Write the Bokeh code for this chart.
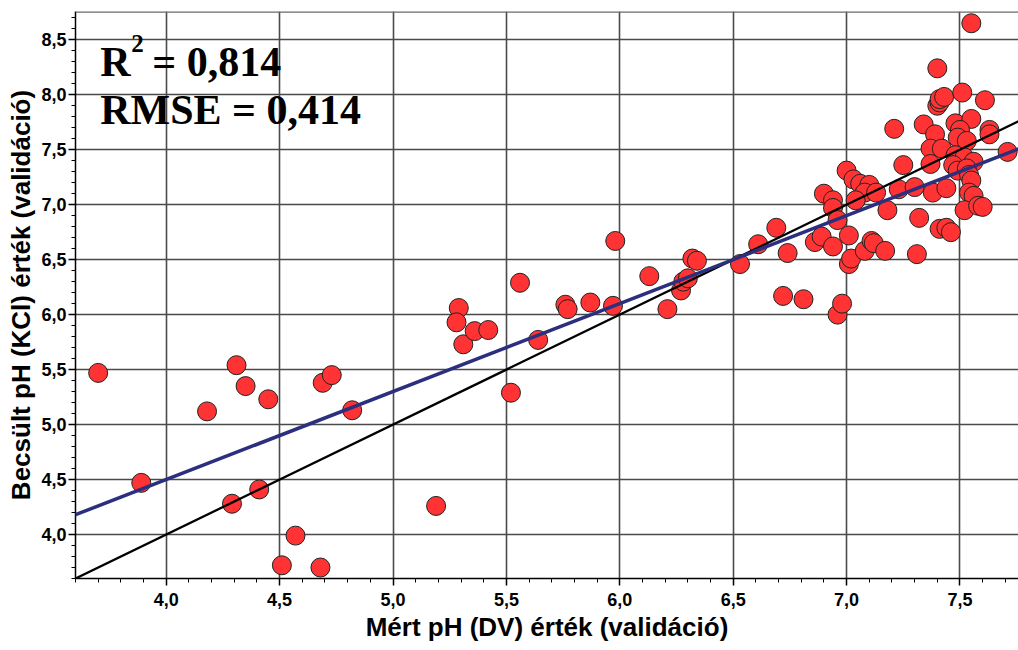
from bokeh.plotting import figure
from bokeh.models import (SingleIntervalTicker, Span, Slope, Label, Range1d)
from bokeh.embed import file_html
from bokeh.resources import INLINE

# ---- data ----
measured_ph = [
    3.70, 3.89, 4.18, 4.31, 4.35, 4.45, 4.29, 4.41, 4.51, 4.57, 4.68, 4.69, 4.73, 4.82,
    5.19, 5.29, 5.28, 5.31, 5.36, 5.42, 5.56, 5.64, 5.52, 5.76, 5.77, 5.87, 5.97, 5.98,
    6.13, 6.21, 6.27, 6.28, 6.30, 6.32, 6.34, 6.53, 6.61, 6.69, 6.74, 6.72, 6.81, 6.86,
    6.89, 6.90, 6.94, 6.94, 6.96, 6.94, 6.96, 6.98, 7.00, 7.03, 7.01, 7.01, 7.02, 7.06,
    7.10, 7.08, 7.13, 7.04, 7.18, 7.23, 7.08, 7.11, 7.12, 7.17, 7.25, 7.31, 7.32, 7.30,
    7.38, 7.44, 7.21, 7.34, 7.39, 7.48, 7.55, 7.50, 7.49, 7.53, 7.63, 7.63, 7.71, 7.37,
    7.42, 7.37, 7.48, 7.52, 7.47, 7.49, 7.56, 7.53, 7.54, 7.55, 7.54, 7.56, 7.52, 7.58,
    7.60, 7.41, 7.44, 7.46, 7.40, 7.41, 7.41, 7.43, 7.40, 7.51, 7.61, 7.55,
]
predicted_ph = [
    5.47, 4.47, 5.12, 5.54, 5.35, 5.23, 4.28, 4.41, 3.72, 3.99, 3.70, 5.38, 5.45, 5.13,
    4.26, 6.06, 5.93, 5.73, 5.85, 5.86, 6.29, 5.77, 5.29, 6.09, 6.05, 6.11, 6.08, 6.67,
    6.35, 6.05, 6.22, 6.30, 6.33, 6.51, 6.49, 6.46, 6.64, 6.79, 6.56, 6.17, 6.14, 6.66,
    6.71, 7.10, 7.04, 6.97, 6.86, 6.62, 6.00, 6.10, 7.31, 7.23, 6.72, 6.46, 6.51, 7.19,
    7.18, 7.11, 7.11, 7.04, 6.95, 7.14, 6.58, 6.67, 6.65, 6.58, 7.36, 6.55, 6.88, 7.16,
    7.11, 7.15, 7.69, 7.73, 7.64, 7.74, 7.78, 7.68, 7.61, 7.58, 7.68, 7.64, 7.48, 7.51,
    7.51, 7.37, 7.45, 7.43, 7.36, 7.31, 7.39, 7.33, 7.27, 7.22, 7.11, 7.08, 6.95, 6.99,
    6.98, 6.78, 6.79, 6.75, 7.90, 7.93, 7.96, 7.98, 8.24, 8.02, 7.95, 8.65,
]

fit_slope = 0.80
fit_intercept = 1.30
r2_base = "R"
r2_sup = "2"
r2_value = "= 0,814"
rmse_text = "RMSE = 0,414"

x_ticks = [4.0, 4.5, 5.0, 5.5, 6.0, 6.5, 7.0, 7.5]
x_tick_labels = ["4,0", "4,5", "5,0", "5,5", "6,0", "6,5", "7,0", "7,5"]
y_ticks = [4.0, 4.5, 5.0, 5.5, 6.0, 6.5, 7.0, 7.5, 8.0, 8.5]
y_tick_labels = ["4,0", "4,5", "5,0", "5,5", "6,0", "6,5", "7,0", "7,5", "8,0", "8,5"]

X_MIN, X_MAX = 3.60, 7.758
Y_MIN, Y_MAX = 3.60, 8.757

x_title = "Mért pH (DV) érték (validáció)"
y_title = "Becsült pH (KCl) érték (validáció)"

SANS = "Liberation Sans"
SERIF = "Liberation Serif"

p = figure(width=1018, height=650, output_backend="svg", toolbar_location=None,
           x_range=Range1d(X_MIN, X_MAX), y_range=Range1d(Y_MIN, Y_MAX),
           min_border_left=75, min_border_right=0, min_border_top=11,
           min_border_bottom=72)
p.outline_line_color = None
p.background_fill_color = "white"
p.border_fill_color = "white"

for ax, ticks, labels in ((p.xaxis[0], x_ticks, x_tick_labels),
                          (p.yaxis[0], y_ticks, y_tick_labels)):
    ax.ticker = SingleIntervalTicker(interval=0.5, num_minor_ticks=5)
    ax.major_label_overrides = {t: l for t, l in zip(ticks, labels)}
    ax.axis_line_color = "black"
    ax.axis_line_width = 1.5
    ax.major_tick_line_color = "black"
    ax.major_tick_line_width = 1.5
    ax.major_tick_in = 0
    ax.major_tick_out = 7
    ax.minor_tick_line_color = "black"
    ax.minor_tick_line_width = 1
    ax.minor_tick_in = 0
    ax.minor_tick_out = 4
    ax.major_label_text_font = SANS
    ax.major_label_text_font_style = "bold"
    ax.major_label_text_font_size = "18px"
    ax.major_label_text_color = "black"
    ax.axis_label_text_font = SANS
    ax.axis_label_text_font_style = "bold"
    ax.axis_label_text_font_size = "26px"
    ax.axis_label_text_color = "black"

p.xaxis.axis_label = x_title
p.yaxis.axis_label = y_title
p.xaxis.major_label_standoff = 7
p.yaxis.major_label_standoff = 2
p.xaxis.axis_label_standoff = 3
p.yaxis.axis_label_standoff = 2

p.xgrid.grid_line_color = "#4a4a4a"
p.ygrid.grid_line_color = "#4a4a4a"
p.xgrid.grid_line_width = 1.6
p.ygrid.grid_line_width = 1.6

p.add_layout(Span(location=Y_MAX, dimension="width", line_color="#6a6a6a", line_width=2.5))

p.scatter(measured_ph, predicted_ph, marker="circle", size=19,
          fill_color="#ff3333", line_color="#222222", line_width=1)

p.add_layout(Slope(gradient=1.0, y_intercept=0.0, line_color="black", line_width=2.3))
p.add_layout(Slope(gradient=fit_slope, y_intercept=fit_intercept,
                   line_color="#2c2f7e", line_width=3.5))

TX = 3.709
p.add_layout(Label(x=TX, y=8.30, text=r2_base, text_font=SERIF,
                   text_font_style="bold", text_font_size="42px",
                   text_color="black", text_baseline="alphabetic"))
p.add_layout(Label(x=TX, y=8.466, x_offset=31, text=r2_sup, text_font=SERIF,
                   text_font_style="bold", text_font_size="25px",
                   text_color="black", text_baseline="alphabetic"))
p.add_layout(Label(x=TX, y=8.30, x_offset=52, text=r2_value, text_font=SERIF,
                   text_font_style="bold", text_font_size="42px",
                   text_color="black", text_baseline="alphabetic"))
p.add_layout(Label(x=TX, y=7.857, text=rmse_text, text_font=SERIF,
                   text_font_style="bold", text_font_size="42px",
                   text_color="black", text_baseline="alphabetic"))

open("out.html", "w").write(file_html(p, INLINE))
